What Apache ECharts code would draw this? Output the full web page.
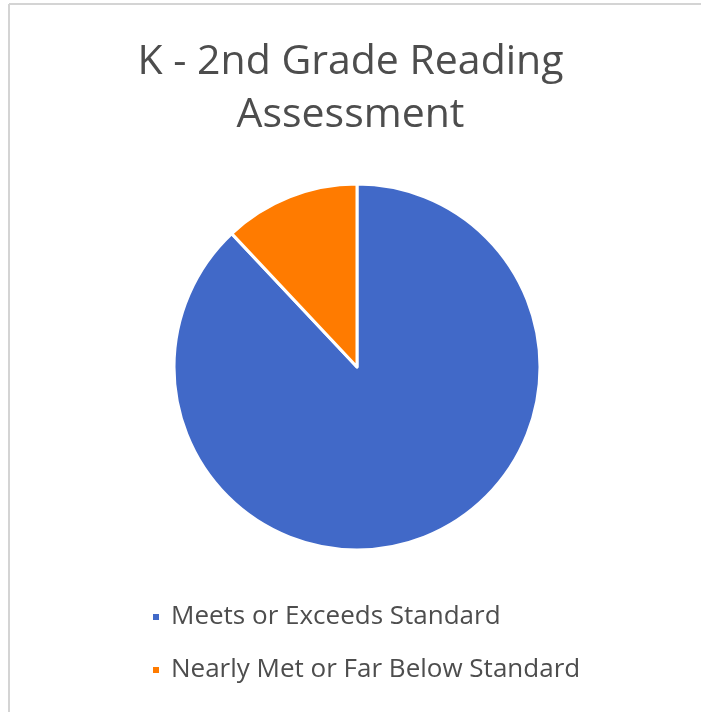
<!DOCTYPE html>
<html>
<head>
<meta charset="utf-8">
<script src="https://cdn.jsdelivr.net/npm/echarts@6/dist/echarts.min.js"></script>
<style>html,body{margin:0;padding:0;background:#fff;}#c{width:701px;height:712px;}</style>
</head>
<body>
<div id="c"></div>
<script>
const titleText = "K - 2nd Grade Reading\nAssessment";
const categories = ["Meets or Exceeds Standard", "Nearly Met or Far Below Standard"];
const values = [88, 12];
const colors = ["#4169C8", "#FF7B00"];

const chart = echarts.init(document.getElementById('c'), null, {renderer: 'canvas'});
chart.setOption({
  backgroundColor: '#ffffff',
  animation: false,
  color: colors,
  graphic: [
    {type: 'line', shape: {x1: 9, y1: 4, x2: 701, y2: 4}, style: {stroke: '#d4d4d4', lineWidth: 2}},
    {type: 'line', shape: {x1: 9, y1: 4, x2: 9, y2: 712}, style: {stroke: '#d4d4d4', lineWidth: 2}}
  ],
  title: {
    text: titleText,
    left: 'center',
    top: 31,
    textStyle: {fontFamily: 'Open Sans', fontSize: 41, fontWeight: 'normal', color: '#4d4d4d', lineHeight: 53}
  },
  legend: {
    orient: 'vertical',
    left: 146,
    top: 599,
    itemWidth: 8,
    itemHeight: 8,
    itemGap: 27,
    icon: 'rect',
    data: categories,
    textStyle: {fontFamily: 'Open Sans', fontSize: 26, fontWeight: 'normal', color: '#4d4d4d', padding: [0, 0, 0, 6]}
  },
  series: [{
    type: 'pie',
    center: [357, 367],
    radius: 183,
    startAngle: 90,
    clockwise: true,
    label: {show: false},
    labelLine: {show: false},
    itemStyle: {borderColor: '#ffffff', borderWidth: 3},
    data: categories.map((n, i) => ({name: n, value: values[i]}))
  }]
});
</script>
</body>
</html>
